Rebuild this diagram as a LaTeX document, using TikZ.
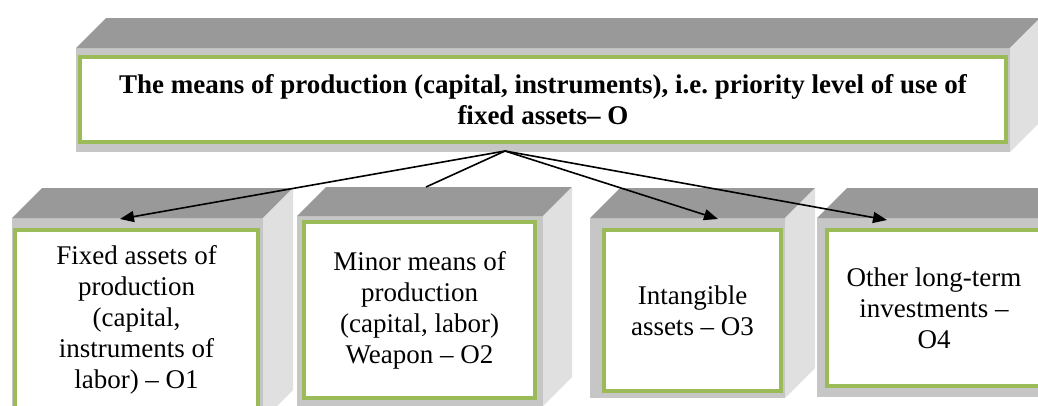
\documentclass[tikz,border=0pt]{standalone}
\usepackage{fontspec}
\setmainfont{Liberation Serif}
\usetikzlibrary{arrows.meta}
\definecolor{topgrey}{HTML}{999999}
\definecolor{frontgrey}{HTML}{C6C6C6}
\definecolor{sidegrey}{HTML}{E0E0E0}
\definecolor{boxgreen}{HTML}{9BBB59}
\frenchspacing
\tikzset{
  greenbox/.style={draw=boxgreen, line width=4pt, fill=white, rectangle,
    inner sep=0pt, outer sep=0pt, align=center,
    font=\fontsize{27}{31}\selectfont},
  link/.style={line width=1.6pt, draw=black},
  arrowlink/.style={link, -{Triangle[length=14pt,width=11pt]}},
}
\newcommand\blockfaces[5]{%
  \fill[frontgrey] (#1,#2) rectangle (#3,#4);
  \fill[topgrey] (#1,#2) -- (#1+#5,#2-#5) -- (#3+#5,#2-#5) -- (#3,#2) -- cycle;
  \fill[sidegrey] (#3,#2) -- (#3+#5,#2-#5) -- (#3+#5,#4-#5) -- (#3,#4) -- cycle;
}
\begin{document}
\begin{tikzpicture}[x=1pt,y=-1pt]
\clip (0,0) rectangle (1038,405);
\fill[white] (0,0) rectangle (1038,405);
% 3D blocks
\blockfaces{76}{48}{1010}{152}{30}
\blockfaces{12}{218}{263}{420}{30}
\blockfaces{297}{216}{543}{406}{29}
\blockfaces{590}{218}{785}{398}{30}
\blockfaces{817}{218}{1060}{397}{30}
% green boxes
\node[greenbox, minimum width=926pt, minimum height=85pt, font=\fontsize{27}{31}\selectfont\bfseries]
  (top) at (543,99.5) {The means of production (capital, instruments), i.e. priority level of use of\\fixed assets\textendash{} O};
\node[greenbox, minimum width=243pt, minimum height=180pt] (o1) at (136.5,320)
  {Fixed assets of\\production\\(capital,\\instruments of\\labor) \textendash{} O1};
\node[greenbox, minimum width=231pt, minimum height=176pt] (o2) at (419.5,310)
  {Minor means of\\production\\(capital, labor)\\Weapon \textendash{} O2};
\node[greenbox, minimum width=177pt, minimum height=161pt] (o3) at (692.5,310.5)
  {Intangible\\assets \textendash{} O3};
\node[greenbox, minimum width=214pt, minimum height=156pt] (o4) at (934,308)
  {Other long-term\\investments \textendash\\O4};
% connectors
\coordinate (apex) at (505,151);
\coordinate (t1) at (120,219);
\coordinate (e2) at (426,187);
\coordinate (t3) at (718,219);
\coordinate (t4) at (887,220);
\draw[arrowlink] (apex) -- (t1);
\draw[link] (apex) -- (e2);
\draw[arrowlink] (apex) -- (t3);
\draw[arrowlink] (apex) -- (t4);
\end{tikzpicture}
\end{document}
